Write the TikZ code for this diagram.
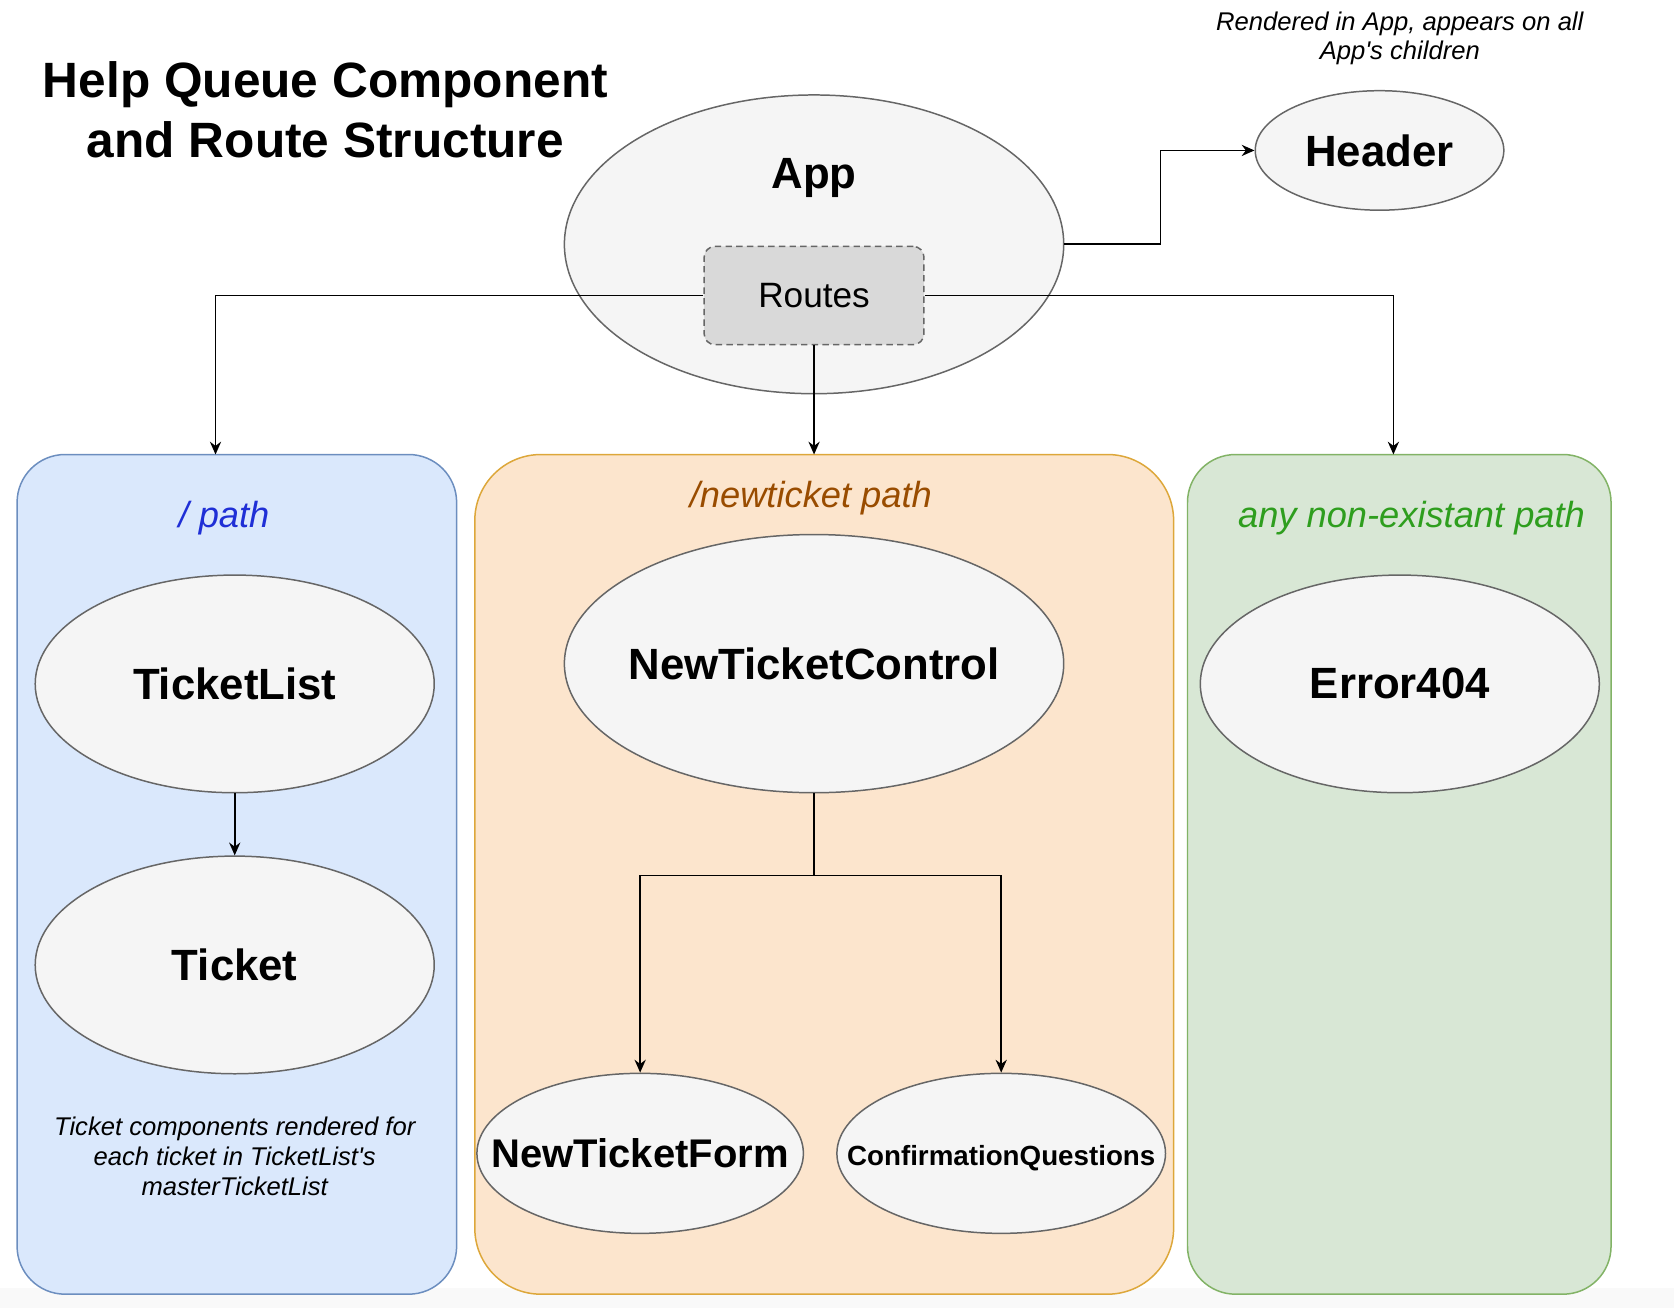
\documentclass[tikz,border=0pt]{standalone}
\usepackage{fontspec}
\setmainfont{Liberation Sans}
\usepackage{tikz}
\usetikzlibrary{shapes.geometric}
\usetikzlibrary{positioning, arrows.meta}
\usepackage{xcolor}

\definecolor{compfill}{HTML}{F5F5F5}
\definecolor{compline}{HTML}{666666}
\definecolor{routesfill}{HTML}{D9D9D9}
\definecolor{bluefill}{HTML}{DAE8FC}
\definecolor{blueline}{HTML}{6C8EBF}
\definecolor{orangefill}{HTML}{FCE5CD}
\definecolor{orangeline}{HTML}{DDA73A}
\definecolor{greenfill}{HTML}{D8E7D5}
\definecolor{greenline}{HTML}{82B366}
\definecolor{pathblue}{HTML}{1F2FD6}
\definecolor{pathbrown}{HTML}{994C00}
\definecolor{pathgreen}{HTML}{2E9E1E}

\newcommand{\cname}[1]{\makebox[0pt]{#1}}

\begin{document}
\begin{tikzpicture}[x=1pt, y=-1pt, >={Stealth[length=12pt, width=10.5pt]},
  comp/.style={ellipse, draw=compline, fill=compfill, line width=1.4pt, inner sep=0pt, font=\fontsize{41}{48}\selectfont\bfseries},
  lane/.style={rectangle, rounded corners=45pt, line width=1.4pt, inner sep=0pt, minimum height=787pt},
  lanetext/.style={font=\fontsize{34}{40}\selectfont\itshape},
  note/.style={align=center, font=\fontsize{24}{28}\selectfont\itshape},
  link/.style={->, line width=1.6pt}]

\useasboundingbox (0,0) rectangle (1569,1226);
\fill[gray!5] (0,1207) rectangle (1569,1226);

% Route lanes
\node[lane, draw=blueline, fill=bluefill, minimum width=412pt] (bluelane) at (222,819.5) {};
\node[lane, draw=orangeline, fill=orangefill, minimum width=655pt, rounded corners=62pt] (orangelane) at (772.5,819.5) {};
\node[lane, draw=greenline, fill=greenfill, minimum width=397pt] (greenlane) at (1311.5,819.5) {};

\node[lanetext, text=pathblue] (rootpath) at (210,486) {/ path};
\node[lanetext, text=pathbrown] (newpath) at (760,467) {/newticket path};
\node[lanetext, text=pathgreen] (otherpath) at (1323,486) {any non-existant path};

% Title
\node[align=center, font=\fontsize{46.5}{56}\selectfont\bfseries] (title) at (305,103) {Help Queue Component\\and Route Structure};

% App with its Routes
\node[comp, minimum width=468pt, minimum height=280pt,
  label={[font=\fontsize{41}{48}\selectfont\bfseries, yshift=62pt]center:App}] (app) at (763,229) {};
\node[draw=compline, dash pattern=on 6pt off 4pt, fill=routesfill, rounded corners=10pt, line width=1.4pt,
  minimum width=206pt, minimum height=92pt, font=\fontsize{33}{40}\selectfont] (routes) at (763,277) {Routes};

% Header
\node[comp, minimum width=233pt, minimum height=112pt] (header) at (1293,141) {\cname{Header}};
\node[note] (headernote) at (1312,36) {Rendered in App, appears on all\\App\textquotesingle s children};

% / path
\node[comp, minimum width=374pt, minimum height=204pt] (ticketlist) at (220,641) {\cname{TicketList}};
\node[comp, minimum width=374pt, minimum height=204pt, below=58pt of ticketlist] (ticket) {\cname{Ticket}};
\node[note] (ticketnote) at (220,1084) {Ticket components rendered for\\each ticket in TicketList\textquotesingle s\\masterTicketList};

% /newticket path
\node[comp, minimum width=468pt, minimum height=242pt] (ntc) at (763,622) {\cname{NewTicketControl}};
\node[comp, minimum width=306pt, minimum height=150pt, font=\fontsize{37.5}{44}\selectfont\bfseries] (form) at (600,1081) {\cname{NewTicketForm}};
\node[comp, minimum width=308pt, minimum height=150pt, right=30pt of form, text height=23pt, text depth=0pt,
  font=\fontsize{26}{32}\selectfont\bfseries] (confirm) {\cname{ConfirmationQuestions}};

% any non-existant path
\node[comp, minimum width=374pt, minimum height=204pt] (error) at (1312,641) {\cname{Error404}};

% Connectors
\coordinate (bluein) at (202,426);
\coordinate (orangein) at (763,426);
\coordinate (greenin) at (1306,426);

\draw[link] (app.east) -- ++(90,0) |- (header.west);
\draw[link] (routes.west) -| (bluein);
\draw[link] (routes.south) -- (orangein);
\draw[link] (routes.east) -| (greenin);
\draw[link] (ticketlist) -- (ticket);
\draw[link] (ntc.south) -- ++(0,77) -| (form.north);
\draw[link] (ntc.south) -- ++(0,77) -| (confirm.north);

\end{tikzpicture}
\end{document}
